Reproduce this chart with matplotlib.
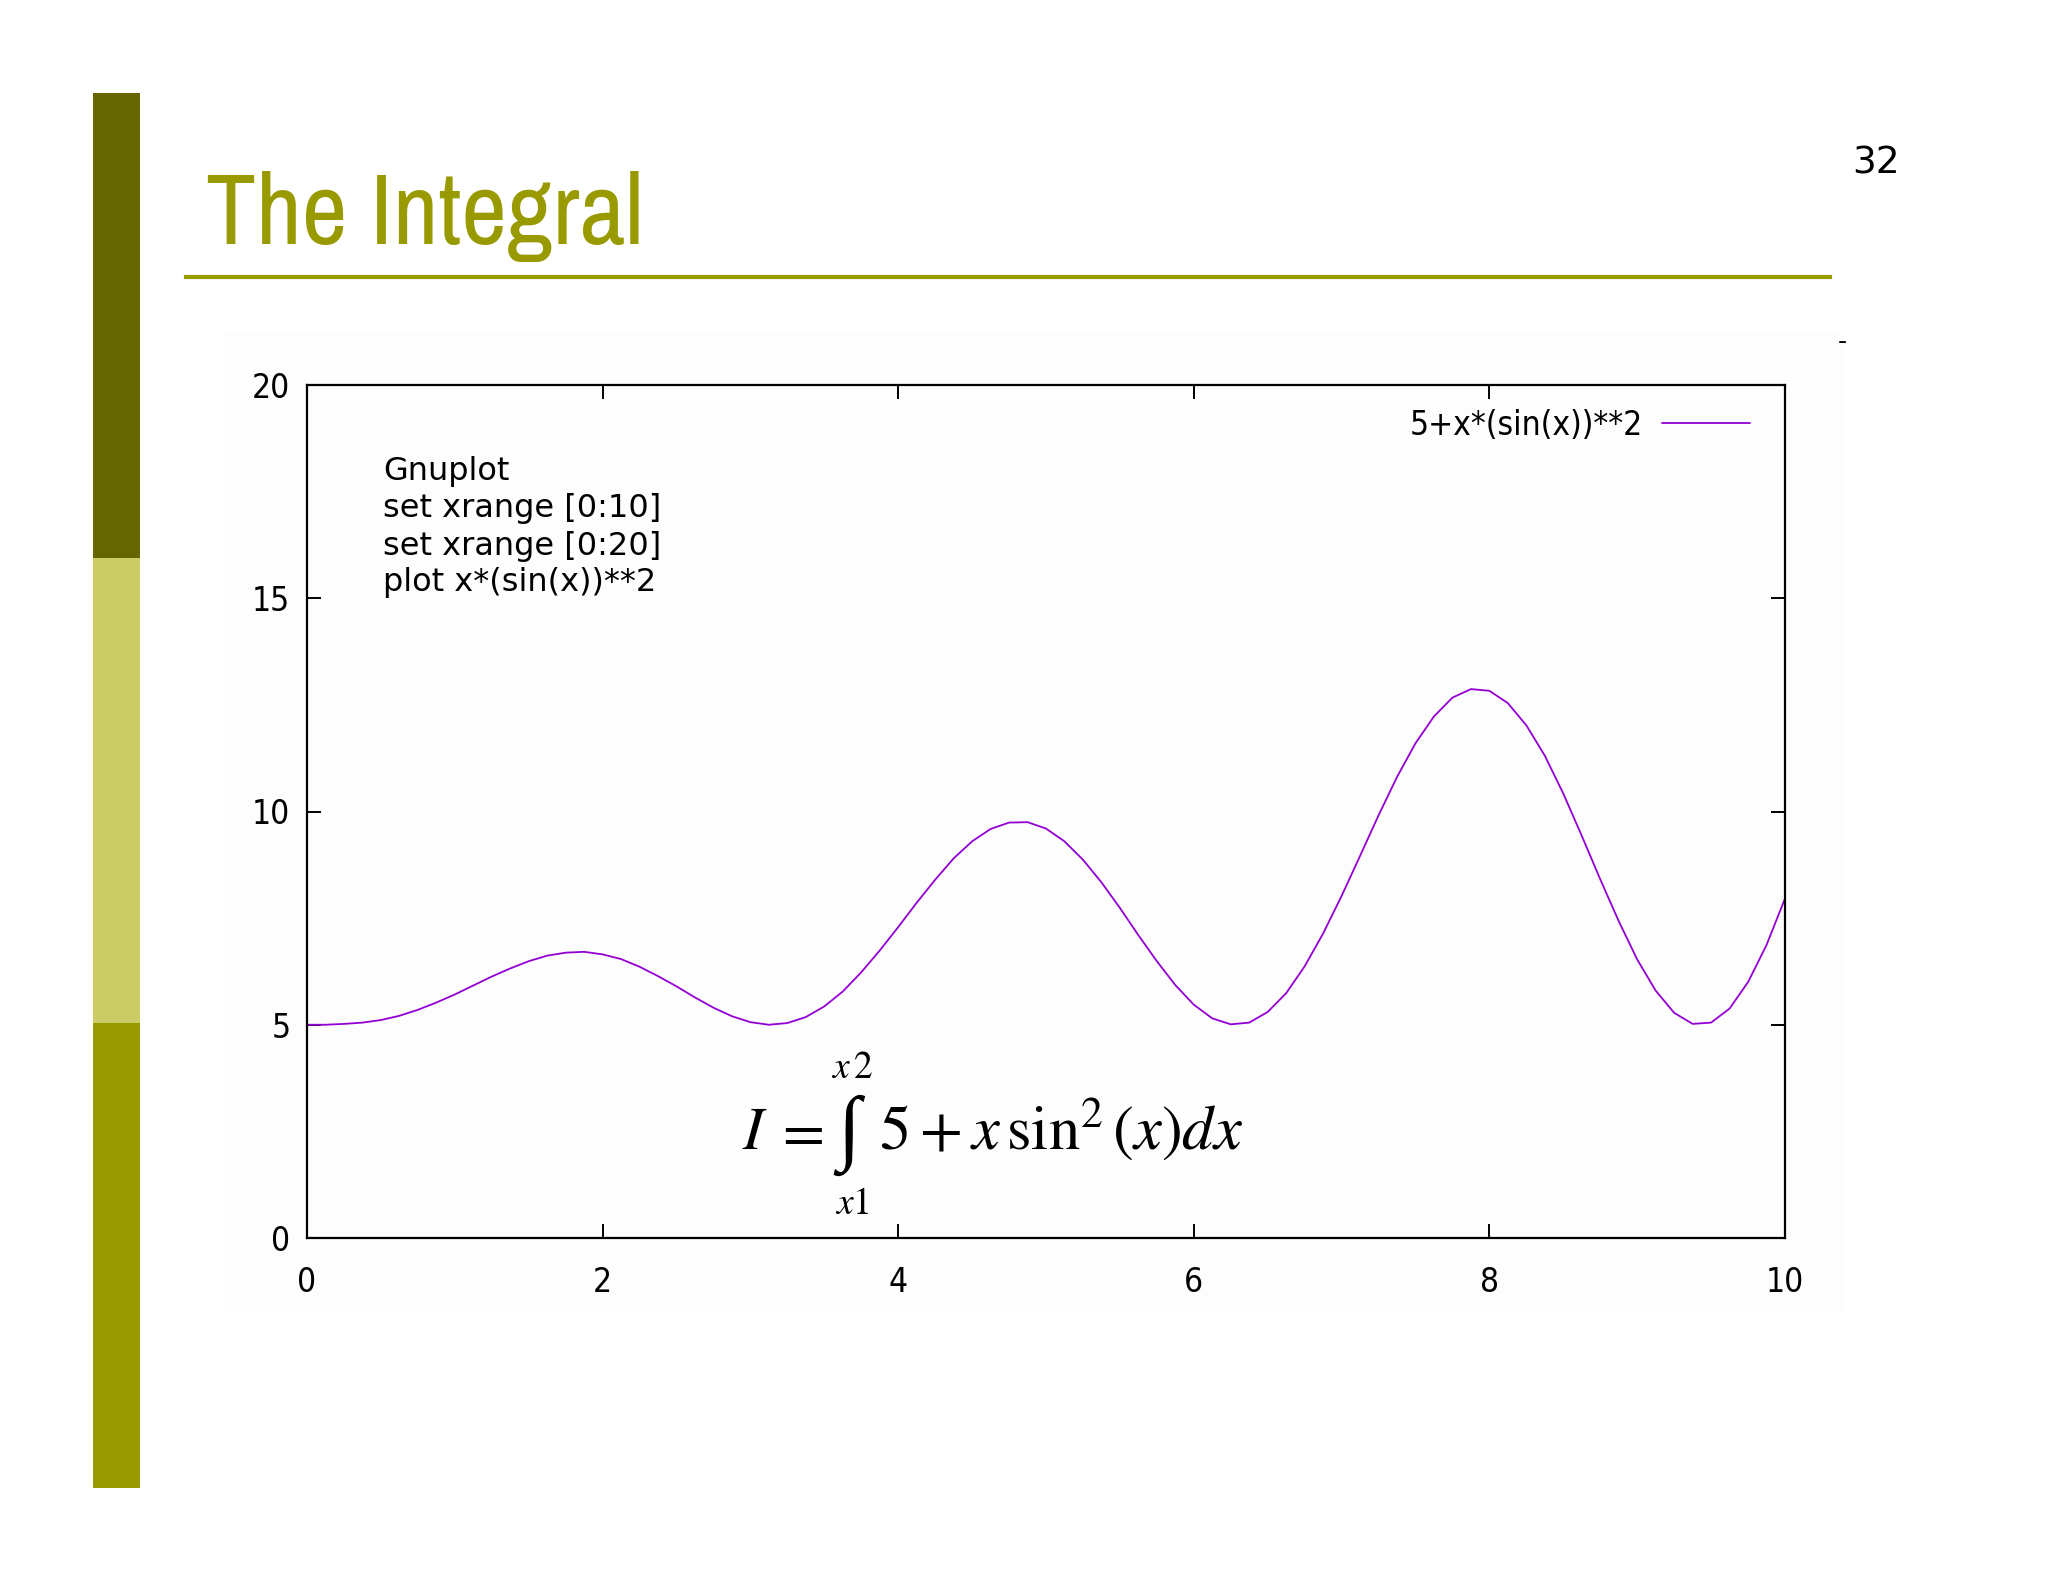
import matplotlib
matplotlib.use("Agg")
import matplotlib.pyplot as plt
from matplotlib.patches import Rectangle
from matplotlib.lines import Line2D

# ---------------- data ----------------
x_vals = [0.0, 0.125, 0.25, 0.375, 0.5, 0.625, 0.75, 0.875,
          1.0, 1.125, 1.25, 1.375, 1.5, 1.625, 1.75, 1.875,
          2.0, 2.125, 2.25, 2.375, 2.5, 2.625, 2.75, 2.875,
          3.0, 3.125, 3.25, 3.375, 3.5, 3.625, 3.75, 3.875,
          4.0, 4.125, 4.25, 4.375, 4.5, 4.625, 4.75, 4.875,
          5.0, 5.125, 5.25, 5.375, 5.5, 5.625, 5.75, 5.875,
          6.0, 6.125, 6.25, 6.375, 6.5, 6.625, 6.75, 6.875,
          7.0, 7.125, 7.25, 7.375, 7.5, 7.625, 7.75, 7.875,
          8.0, 8.125, 8.25, 8.375, 8.5, 8.625, 8.75, 8.875,
          9.0, 9.125, 9.25, 9.375, 9.5, 9.625, 9.75, 9.875, 10.0]
y_vals = [5.00, 5.00, 5.02, 5.05, 5.11, 5.21, 5.35, 5.52,
          5.71, 5.92, 6.13, 6.32, 6.49, 6.62, 6.69, 6.71,
          6.65, 6.54, 6.36, 6.14, 5.90, 5.64, 5.40, 5.20,
          5.06, 5.00, 5.04, 5.18, 5.43, 5.78, 6.23, 6.74,
          7.29, 7.86, 8.40, 8.90, 9.30, 9.59, 9.74, 9.75,
          9.60, 9.30, 8.87, 8.34, 7.74, 7.10, 6.49, 5.93,
          5.47, 5.15, 5.01, 5.05, 5.30, 5.74, 6.37, 7.14,
          8.02, 8.96, 9.91, 10.81, 11.60, 12.23, 12.67, 12.87,
          12.83, 12.54, 12.02, 11.31, 10.42, 9.43, 8.41, 7.43,
          6.53, 5.80, 5.28, 5.02, 5.05, 5.38, 6.00, 6.87, 7.96]
series_label = "5+x*(sin(x))**2"
x_ticks = [0, 2, 4, 6, 8, 10]
y_ticks = [0, 5, 10, 15, 20]
title_text = "The Integral"
page_number = "32"
note_lines = ["Gnuplot", "set xrange [0:10]", "set xrange [0:20]", "plot x*(sin(x))**2"]

# ---------------- figure ----------------
W, H = 2048, 1582
fig = plt.figure(figsize=(W / 100, H / 100), dpi=100)
fig.patch.set_facecolor("white")
plt.rcParams["mathtext.fontset"] = "stix"

def fx(px):
    return px / W

def fy(py):
    return 1 - py / H

# left decorative bar (three segments)
bar_x0, bar_x1 = 93, 140
seg = [(93, 558, "#666600"), (558, 1023, "#cccc66"), (1023, 1488, "#999900")]
for top, bot, c in seg:
    fig.patches.append(Rectangle((fx(bar_x0), fy(bot)), fx(bar_x1 - bar_x0), (bot - top) / H,
                                 transform=fig.transFigure, facecolor=c, edgecolor="none",
                                 zorder=-10))

# title and underline
fig.text(fx(206), fy(244), title_text,
         family=["Archivo Narrow", "Roboto Condensed", "PT Sans Narrow", "DejaVu Sans"],
         fontsize=72, color="#999900", ha="left", va="baseline")
fig.lines.append(Line2D([fx(186), fx(1830)], [fy(277), fy(277)], transform=fig.transFigure,
                        color="#999900", lw=3.0, zorder=-5))

# page number and small dash
fig.text(fx(1876), fy(163), page_number, family="DejaVu Sans", fontsize=27,
         color="black", ha="center", va="center")
fig.text(fx(1842), fy(342), "-", family="DejaVu Sans", fontsize=18,
         color="black", ha="center", va="center")

# faint chart image background (behind everything)
fig.patches.append(Rectangle((fx(225), fy(1313)), fx(1842 - 225), (1313 - 333) / H,
                             transform=fig.transFigure, facecolor="#fdfdfd", edgecolor="none",
                             zorder=-20))

# ---------------- axes ----------------
ax_l, ax_r, ax_t, ax_b = 307, 1785, 385, 1238
ax = fig.add_axes([fx(ax_l), fy(ax_b), fx(ax_r - ax_l), (ax_b - ax_t) / H])
ax.set_zorder(5)
ax.set_facecolor("none")
ax.plot(x_vals, y_vals, color="#9400d3", lw=1.3, label=series_label,
        solid_joinstyle="round", solid_capstyle="round")
ax.set_xlim(0, 10)
ax.set_ylim(0, 20)
ax.set_xticks(x_ticks)
ax.set_yticks(y_ticks)
for s in ax.spines.values():
    s.set_linewidth(1.6)
    s.set_color("black")
ax.tick_params(axis="both", which="major", direction="in", length=10, width=1.4,
               top=True, right=True, labelsize=24, colors="black")
ax.tick_params(axis="x", pad=20)
ax.tick_params(axis="y", pad=12)
for lab in ax.get_xticklabels() + ax.get_yticklabels():
    lab.set_family("DejaVu Sans")
    lab.set_fontstretch("condensed")

leg = ax.legend(loc="upper right", bbox_to_anchor=(0.9763, 0.972), frameon=False,
                markerfirst=False, handlelength=2.63, handletextpad=0.59,
                borderpad=0, borderaxespad=0,
                prop={"family": "DejaVu Sans", "stretch": "condensed", "size": 24})

# gnuplot note text
for i, line in enumerate(note_lines):
    fig.text(fx(383), fy(472 + i * 37), line, family="DejaVu Sans", fontsize=23,
             color="black", ha="left", va="center")

# ---------------- formula ----------------
fig.text(fx(742), fy(1149), r"$I$", fontsize=44, ha="left", va="baseline", color="black")
fig.text(fx(799), fy(1149), r"$=$", fontsize=44, ha="center", va="baseline", color="black")
fig.text(fx(849), fy(1135), "\u222b", family=["Liberation Serif", "DejaVu Serif"], fontsize=60,
         ha="center", va="center", color="black")
fig.text(fx(879), fy(1149), r"$5+x\,\sin^2(x)dx$", fontsize=45, ha="left", va="baseline",
         color="black")
fig.text(fx(852), fy(1068), r"$x\,2$", fontsize=27, ha="center", va="center", color="black")
fig.text(fx(852), fy(1204), r"$x1$", fontsize=27, ha="center", va="center", color="black")

fig.savefig("out.png", dpi=100, facecolor="white")
